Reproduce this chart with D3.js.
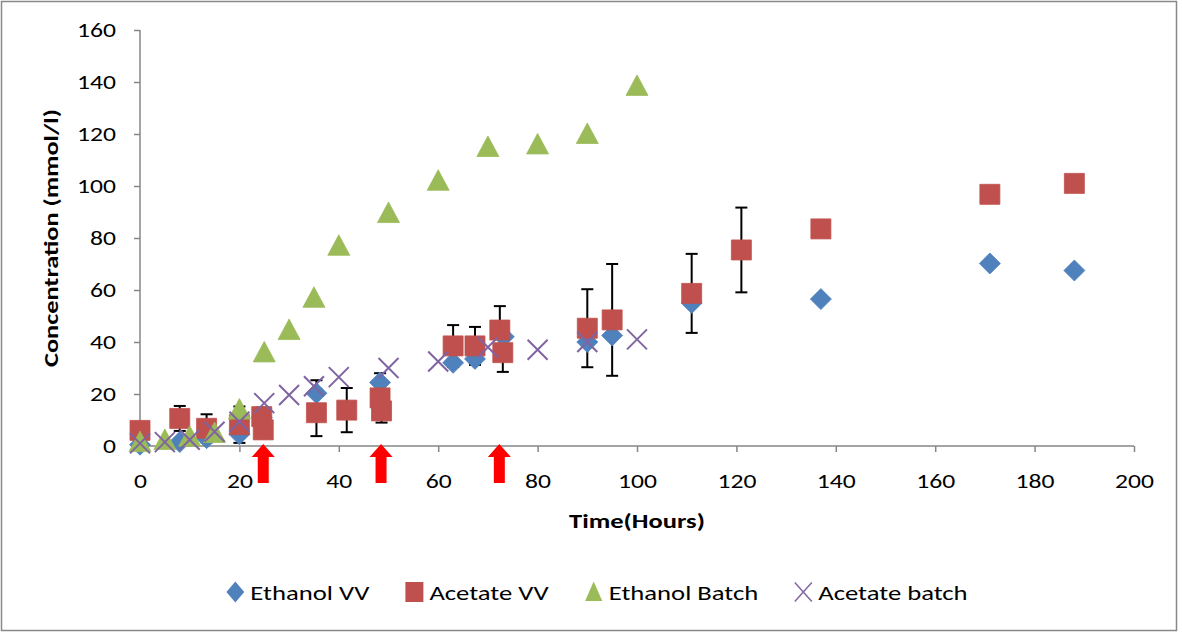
<!DOCTYPE html>
<html>
<head>
<meta charset="utf-8">
<script src="https://cdn.jsdelivr.net/npm/d3@7/dist/d3.min.js"></script>
<style>
  body { margin: 0; background: #fff; }
  text { font-family: Carlito, Lato, "Liberation Sans", sans-serif; fill: #000; }
</style>
</head>
<body>
<div id="chart"></div>
<script>
// Ethanol VV (time, value, error)
var ethanolVVTime = [0, 8, 13.4, 20, 24.5, 35.5, 48.3, 63, 67.4, 73.2, 90, 95, 111, 137, 171, 188];
var ethanolVVValue = [0.5, 1.5, 3, 4.5, 11, 20.3, 24.4, 32, 33.5, 42, 40, 42.5, 55, 56.5, 70.2, 67.5];
var ethanolVVErr = [0, 0, 0, 0, 3.7, 5, 3.6, 1.5, 2, 1, 1, 1, 1, 0.5, 0.5, 0.5];

// Acetate VV
var acetateVVTime = [0, 8, 13.4, 20, 24.5, 24.8, 35.5, 41.6, 48.3, 48.6, 63, 67.4, 72.4, 73, 90, 95, 111, 121, 137, 171, 188];
var acetateVVValue = [6, 10.6, 6.8, 8.2, 11.3, 6.2, 12.8, 13.8, 18.5, 13.5, 38.5, 38.5, 44.6, 35.9, 45.3, 48.5, 58.7, 75.4, 83.5, 96.8, 101];
var acetateVVErr = [0, 4.8, 5.4, 7, 3.4, 3.2, 9, 8.5, 4.5, 4.5, 8, 7.3, 9.2, 7.4, 15, 21.5, 15.2, 16.3, 0, 0, 0];

// Ethanol Batch
var ethanolBatchTime = [0, 5, 10, 15, 20, 25, 30, 35, 40, 50, 60, 70, 80, 90, 100];
var ethanolBatchValue = [1.5, 2.3, 3.6, 5, 14, 36, 44.6, 57, 77, 89.6, 102, 115, 116, 120, 138.5];

// Acetate batch
var acetateBatchTime = [0, 5, 10, 15, 20, 25, 30, 35, 40, 50, 60, 70, 80, 90, 100];
var acetateBatchValue = [1, 1.5, 2.4, 5.5, 9.3, 16.5, 19.6, 23, 26.5, 30, 32.5, 38, 37, 40, 41];

// Feeding times (red arrows)
var feedTimes = [24.8, 48.5, 72.3];

var xTicks = [0, 20, 40, 60, 80, 100, 120, 140, 160, 180, 200];
var yTicks = [0, 20, 40, 60, 80, 100, 120, 140, 160];

var width = 1182, height = 635;
var margin = {top: 30, right: 48, bottom: 189, left: 140};
var plotW = width - margin.left - margin.right;
var plotH = height - margin.top - margin.bottom;

var svg = d3.select("#chart").append("svg")
  .attr("width", width)
  .attr("height", height);

// khung ngoài
svg.append("rect")
  .attr("x", 1.5).attr("y", 1.5)
  .attr("width", 1175).attr("height", 629)
  .attr("fill", "#fff")
  .attr("stroke", "#898989")
  .attr("stroke-width", 1.5);

var g = svg.append("g")
  .attr("transform", "translate(" + margin.left + "," + margin.top + ")");

var x = d3.scaleLinear().domain([0, 200]).range([0, plotW]);
var y = d3.scaleLinear().domain([0, 160]).range([plotH, 0]);

// chữ trong ảnh gốc rộng hơn -> kéo giãn ngang cho khớp
function stretchText(node, targetWidth) {
  var w = node.getComputedTextLength();
  return targetWidth / w;
}
function applyStretch(sel, sx) {
  sel.each(function() {
    var t = d3.select(this);
    var x0 = +t.attr("x") || 0;
    var y0 = +t.attr("y") || 0;
    t.attr("x", 0).attr("y", 0)
      .attr("transform", "translate(" + x0 + "," + y0 + ") scale(" + sx + ",1)");
  });
}

// trục
var xAxis = g.append("g")
  .attr("transform", "translate(0," + plotH + ")")
  .call(d3.axisBottom(x).tickValues(xTicks).tickSize(6).tickPadding(21).tickFormat(d3.format("d")));
var yAxis = g.append("g")
  .call(d3.axisLeft(y).tickValues(yTicks).tickSize(6).tickPadding(18).tickFormat(d3.format("d")));

[xAxis, yAxis].forEach(function(a) {
  a.select(".domain").attr("stroke", "#868686").attr("stroke-width", 1.5);
  a.selectAll(".tick line").attr("stroke", "#868686").attr("stroke-width", 1.5);
  a.selectAll(".tick text").attr("font-size", "21px").attr("fill", "#000")
    .style("font-family", "Carlito, Lato, 'Liberation Sans', sans-serif");
});
xAxis.select(".domain").attr("d", "M0,0H" + plotW);
yAxis.select(".domain").attr("d", "M0," + plotH + "V0");

// "160" rộng khoảng 39px trong ảnh gốc
var tickSx = stretchText(yAxis.selectAll(".tick text").filter(function(d) { return d === 160; }).node(), 39);
applyStretch(xAxis.selectAll(".tick text"), tickSx);
applyStretch(yAxis.selectAll(".tick text"), tickSx);

// tên trục
var xTitle = g.append("text")
  .attr("x", plotW / 2)
  .attr("y", plotH + 82)
  .attr("text-anchor", "middle")
  .attr("font-size", "20px")
  .attr("font-weight", "bold")
  .text("Time(Hours)");
applyStretch(xTitle, stretchText(xTitle.node(), 136));

var yTitle = g.append("g")
  .attr("transform", "translate(-82," + (plotH / 2) + ") rotate(-90)")
  .append("text")
  .attr("text-anchor", "middle")
  .attr("font-size", "20px")
  .attr("font-weight", "bold")
  .text("Concentration (mmol/l)");
applyStretch(yTitle, stretchText(yTitle.node(), 258));

// mũi tên đỏ
var arrowPath = "M0,-2 L11.5,11 L5.5,11 L5.5,37 L-5.5,37 L-5.5,11 L-11.5,11 Z";
g.selectAll(".arrow")
  .data(feedTimes)
  .enter().append("path")
  .attr("class", "arrow")
  .attr("transform", function(d) { return "translate(" + x(d) + "," + y(0) + ")"; })
  .attr("d", arrowPath)
  .attr("fill", "#ff0000");

function zip(t, v, e) {
  return t.map(function(d, i) { return {t: d, v: v[i], e: e ? e[i] : 0}; });
}
var ethVV = zip(ethanolVVTime, ethanolVVValue, ethanolVVErr);
var aceVV = zip(acetateVVTime, acetateVVValue, acetateVVErr);
var ethB = zip(ethanolBatchTime, ethanolBatchValue);
var aceB = zip(acetateBatchTime, acetateBatchValue);

// error bars
function errorBars(data) {
  var eb = g.append("g").selectAll("g")
    .data(data.filter(function(d) { return d.e > 0; }))
    .enter().append("g")
    .attr("stroke", "#000").attr("stroke-width", 2);
  eb.append("line")
    .attr("x1", function(d) { return x(d.t); }).attr("x2", function(d) { return x(d.t); })
    .attr("y1", function(d) { return y(d.v - d.e); }).attr("y2", function(d) { return y(d.v + d.e); });
  [-1, 1].forEach(function(s) {
    eb.append("line")
      .attr("x1", function(d) { return x(d.t) - 6; }).attr("x2", function(d) { return x(d.t) + 6; })
      .attr("y1", function(d) { return y(d.v + s * d.e); }).attr("y2", function(d) { return y(d.v + s * d.e); });
  });
}
errorBars(ethVV);
errorBars(aceVV);

var colors = {ethVV: "#4f81bd", aceVV: "#c0504d", ethB: "#9bbb59", aceB: "#8064a2"};
var shapes = {
  diamond: "M0,-10.5 L10.5,0 L0,10.5 L-10.5,0 Z",
  square: "M-10,-10 H10 V10 H-10 Z",
  triangle: "M0,-11 L11,9.5 L-11,9.5 Z",
  cross: "M-10,-10 L10,10 M-10,10 L10,-10"
};

function drawMarkers(data, shape, color) {
  var isCross = shape === "cross";
  g.append("g").selectAll("path")
    .data(data)
    .enter().append("path")
    .attr("transform", function(d) { return "translate(" + x(d.t) + "," + y(d.v) + ")"; })
    .attr("d", shapes[shape])
    .attr("fill", isCross ? "none" : color)
    .attr("stroke", color)
    .attr("stroke-width", isCross ? 2 : 0.8);
}
drawMarkers(ethVV, "diamond", colors.ethVV);
drawMarkers(aceVV, "square", colors.aceVV);
drawMarkers(ethB, "triangle", colors.ethB);
drawMarkers(aceB, "cross", colors.aceB);

// chú thích
var legendItems = [
  {name: "Ethanol VV", shape: "diamond", color: colors.ethVV, sx: 0.85, sy: 1},
  {name: "Acetate VV", shape: "square", color: colors.aceVV, sx: 0.9, sy: 1},
  {name: "Ethanol Batch", shape: "triangle", color: colors.ethB, sx: 0.78, sy: 0.95},
  {name: "Acetate batch", shape: "cross", color: colors.aceB, sx: 0.85, sy: 0.95}
];
var legendSx = 1.27;
var legend = svg.append("g");
var lx = 0;
legendItems.forEach(function(it) {
  var item = legend.append("g").attr("transform", "translate(" + lx + ",0)");
  item.append("path")
    .attr("transform", "translate(9,0) scale(" + it.sx + "," + it.sy + ")")
    .attr("d", shapes[it.shape])
    .attr("fill", it.shape === "cross" ? "none" : it.color)
    .attr("stroke", it.color)
    .attr("stroke-width", it.shape === "cross" ? 1.8 : 0);
  var t = item.append("text")
    .attr("x", 24).attr("y", 7.5)
    .attr("font-size", "21px")
    .text(it.name);
  var w = t.node().getComputedTextLength() * legendSx;
  applyStretch(t, legendSx);
  lx += 24 + w + 36;
});
var legendW = lx - 36;
legend.attr("transform", "translate(" + (597 - legendW / 2) + ",592)");
</script>
</body>
</html>
